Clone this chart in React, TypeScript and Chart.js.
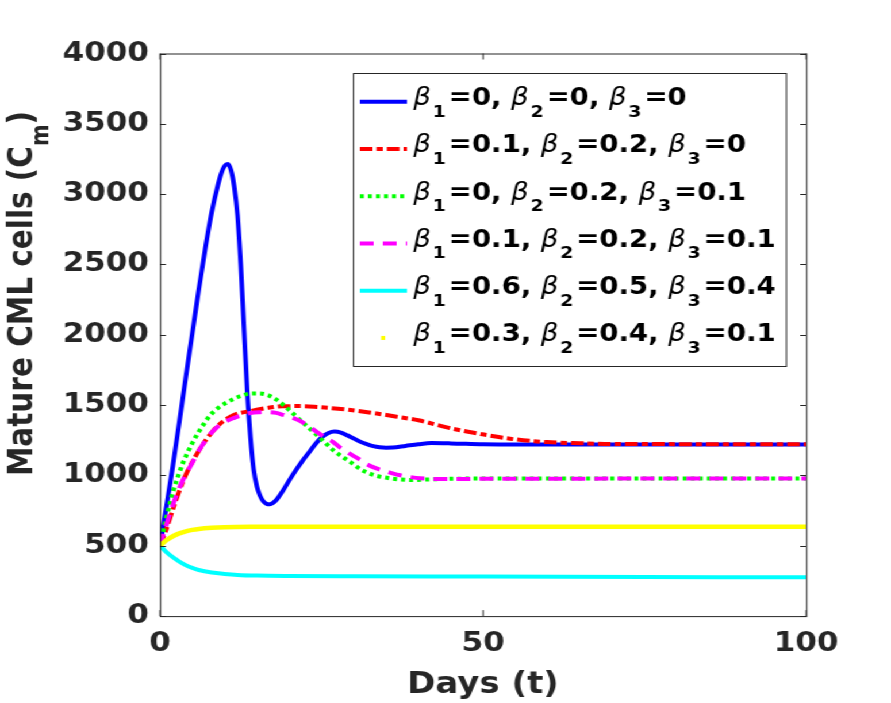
import { useEffect, useRef } from "react";
import { Chart, registerables } from "chart.js";

Chart.register(...registerables);

// Canvas is laid out at a narrower width and stretched horizontally on screen.
const CANVAS_W = 775;
const CANVAS_H = 703;
const STRETCH = 891 / 775;

const FONT = "'DejaVu Sans', sans-serif";
const AXIS_COLOR = "#262626";

// ---- series: time (days) and mature CML cells ----
const tBlue = [0, 1, 2, 3, 4, 5, 6, 7, 8, 9, 9.5, 10, 10.5, 11, 11.5, 12, 12.5, 13, 13.5, 14, 14.5, 15, 15.5, 16, 16.5, 17, 17.5, 18, 19, 20, 21, 22, 23, 24, 25, 26, 27, 28, 29, 30, 31, 32, 33, 34, 35, 36, 38, 40, 42, 45, 50, 55, 60, 100];
const cmBlue = [500, 780, 1070, 1380, 1700, 2010, 2320, 2610, 2870, 3070, 3150, 3200, 3215, 3170, 3050, 2850, 2500, 2050, 1600, 1270, 1040, 920, 855, 815, 798, 795, 805, 825, 890, 965, 1035, 1100, 1160, 1220, 1270, 1300, 1312, 1305, 1285, 1262, 1240, 1222, 1208, 1200, 1197, 1198, 1210, 1222, 1230, 1228, 1222, 1220, 1220, 1220];

const tRed = [0, 1, 2, 3, 4, 5, 6, 7, 8, 9, 10, 11.4, 14, 16.6, 19, 22, 24.3, 29.5, 34, 37, 40, 45, 49.6, 54.7, 59.9, 65, 70, 100];
const cmRed = [500, 620, 760, 890, 1005, 1095, 1175, 1245, 1305, 1355, 1392, 1430, 1458, 1480, 1492, 1493, 1487, 1465, 1437, 1415, 1392, 1335, 1295, 1258, 1237, 1229, 1224, 1222];

const tGreen = [0, 1, 2, 3, 3.6, 5, 6, 7, 7.8, 9, 10, 11.4, 12.5, 14, 15, 16.6, 18, 19.1, 20, 21.7, 23, 24.3, 25.5, 26.8, 28, 29.5, 31, 32, 33.3, 34.6, 36, 37.2, 39, 42, 45, 50, 100];
const cmGreen = [500, 700, 880, 1020, 1094, 1230, 1310, 1380, 1430, 1480, 1510, 1544, 1565, 1582, 1583, 1573, 1540, 1501, 1465, 1394, 1340, 1287, 1235, 1180, 1140, 1094, 1045, 1022, 1000, 987, 977, 972, 968, 972, 976, 978, 978];

const tMagenta = [0, 1, 2, 3, 3.6, 5, 6, 7, 8, 9, 10, 11.4, 12.5, 14, 15.5, 16.6, 18, 19.1, 20.5, 21.7, 23, 24.3, 25.5, 26.8, 28, 29.5, 31, 32, 33.5, 34.9, 36, 37.2, 38.5, 40.3, 45.4, 50, 100];
const cmMagenta = [500, 650, 790, 910, 972, 1090, 1175, 1245, 1305, 1350, 1380, 1408, 1425, 1444, 1450, 1451, 1445, 1430, 1410, 1387, 1350, 1308, 1272, 1237, 1195, 1151, 1110, 1080, 1050, 1030, 1015, 1001, 990, 980, 974, 976, 978];

const tCyan = [0, 0.5, 1, 2, 3, 4, 5, 6, 8, 10, 12, 15, 20, 30, 50, 75, 100];
const cmCyan = [500, 478, 455, 418, 388, 362, 343, 328, 310, 300, 293, 288, 285, 283, 281, 278, 276];

const tYellow = [0, 0.5, 1, 2, 3, 4, 5, 6, 8, 10, 15, 20, 100];
const cmYellow = [500, 520, 540, 568, 588, 603, 613, 620, 628, 632, 635, 636, 636];

// ---- legend parameters ----
const beta1 = ["0", "0.1", "0", "0.1", "0.6", "0.3"];
const beta2 = ["0", "0.2", "0.2", "0.2", "0.5", "0.4"];
const beta3 = ["0", "0", "0.1", "0.1", "0.4", "0.1"];

// ---- axis ticks ----
const xTicks = [0, 50, 100];
const yTicks = [0, 500, 1000, 1500, 2000, 2500, 3000, 3500, 4000];

type Style = { color: string; dash: number[]; width: number; dotOnly?: boolean };
const styles: Style[] = [
  { color: "#0000ff", dash: [], width: 4 },
  { color: "#ff0000", dash: [11, 3.5, 5.5, 3.5], width: 4 },
  { color: "#00ff00", dash: [3.5, 3.5], width: 4 },
  { color: "#ff00ff", dash: [12, 8], width: 4 },
  { color: "#00ffff", dash: [], width: 4 },
  { color: "#ffff00", dash: [], width: 4.5, dotOnly: true },
];

const seriesT = [tBlue, tRed, tGreen, tMagenta, tCyan, tYellow];
const seriesV = [cmBlue, cmRed, cmGreen, cmMagenta, cmCyan, cmYellow];

function toPoints(ts: number[], vs: number[]) {
  return ts.map((t, i) => ({ x: t, y: vs[i] }));
}

function drawLegendRow(ctx: CanvasRenderingContext2D, x: number, base: number, vals: string[]) {
  let cx = x;
  vals.forEach((v, i) => {
    ctx.font = `italic 24px ${FONT}`;
    ctx.fillText("β", cx, base);
    cx += ctx.measureText("β").width + 1.5;
    ctx.font = `bold 16.5px ${FONT}`;
    const sub = String(i + 1);
    ctx.fillText(sub, cx, base + 11.5);
    cx += ctx.measureText(sub).width + 2.5;
    ctx.font = `bold 24px ${FONT}`;
    const s = "=" + v + (i < vals.length - 1 ? ", " : "");
    ctx.fillText(s, cx, base);
    cx += ctx.measureText(s).width;
  });
}

const decorations = {
  id: "decorations",
  afterDatasetsDraw(chart: any) {
    const { ctx, chartArea } = chart;
    const { left, right, top, bottom } = chartArea;
    const xs = chart.scales.x;
    const ys = chart.scales.y;
    ctx.save();

    // axes box
    ctx.strokeStyle = AXIS_COLOR;
    ctx.lineWidth = 1;
    ctx.strokeRect(left + 0.5, top + 0.5, right - left, bottom - top);

    // inward tick marks
    ctx.beginPath();
    for (const v of yTicks) {
      const y = Math.round(ys.getPixelForValue(v)) + 0.5;
      ctx.moveTo(left, y);
      ctx.lineTo(left + 5.2, y);
      ctx.moveTo(right, y);
      ctx.lineTo(right - 5.2, y);
    }
    for (const v of xTicks) {
      const x = xs.getPixelForValue(v);
      ctx.moveTo(x, bottom);
      ctx.lineTo(x, bottom - 6);
      ctx.moveTo(x, top);
      ctx.lineTo(x, top + 6);
    }
    ctx.stroke();

    // axis titles
    ctx.fillStyle = AXIS_COLOR;
    ctx.textBaseline = "alphabetic";
    ctx.textAlign = "center";
    ctx.font = `bold 29.5px ${FONT}`;
    ctx.fillText("Days (t)", (left + right) / 2, 693);

    ctx.save();
    ctx.translate(28, 293.5);
    ctx.rotate(-Math.PI / 2);
    ctx.textAlign = "left";
    const mainTxt = "Mature CML cells (C";
    ctx.font = `bold 29.5px ${FONT}`;
    const w1 = ctx.measureText(mainTxt).width;
    const w3 = ctx.measureText(")").width;
    ctx.font = `bold 20.7px ${FONT}`;
    const w2 = ctx.measureText("m").width;
    const total = w1 + w2 + w3;
    let px = -total / 2;
    ctx.font = `bold 29.5px ${FONT}`;
    ctx.fillText(mainTxt, px, 0);
    px += w1;
    ctx.font = `bold 20.7px ${FONT}`;
    ctx.fillText("m", px, 14);
    px += w2;
    ctx.font = `bold 29.5px ${FONT}`;
    ctx.fillText(")", px, 0);
    ctx.restore();

    // legend
    const bx = 307, by = 73, bw = 376.5, bh = 293;
    ctx.fillStyle = "#ffffff";
    ctx.fillRect(bx, by, bw, bh);
    ctx.strokeStyle = AXIS_COLOR;
    ctx.lineWidth = 1;
    ctx.strokeRect(bx + 0.5, by + 0.5, bw, bh);

    ctx.textAlign = "left";
    styles.forEach((st, i) => {
      const ly = 101.7 + i * 47.25;
      ctx.strokeStyle = st.color;
      ctx.fillStyle = st.color;
      if (st.dotOnly) {
        ctx.fillRect(331.5, ly - 2, 3.5, 4);
      } else {
        ctx.lineWidth = st.width;
        ctx.setLineDash(st.dash);
        ctx.beginPath();
        ctx.moveTo(313, ly);
        ctx.lineTo(354, ly);
        ctx.stroke();
        ctx.setLineDash([]);
      }
      ctx.fillStyle = "#000000";
      drawLegendRow(ctx, 359.5, ly + 3.5, [beta1[i], beta2[i], beta3[i]]);
    });

    ctx.restore();
  },
};

export default function App() {
  const canvasRef = useRef<HTMLCanvasElement | null>(null);

  useEffect(() => {
    const canvas = canvasRef.current;
    if (!canvas) return;
    const labels = ["β1=0, β2=0, β3=0", "β1=0.1, β2=0.2, β3=0", "β1=0, β2=0.2, β3=0.1", "β1=0.1, β2=0.2, β3=0.1", "β1=0.6, β2=0.5, β3=0.4", "β1=0.3, β2=0.4, β3=0.1"];
    const datasets = styles.map((st, i) => ({
      label: labels[i],
      data: toPoints(seriesT[i], seriesV[i]),
      borderColor: st.color,
      backgroundColor: st.color,
      borderWidth: st.width,
      borderDash: st.dash,
      pointRadius: 0,
      fill: false,
      cubicInterpolationMode: "monotone" as const,
      order: styles.length - i,
    }));

    const plain = (v: any) => String(v);

    const chart = new Chart(canvas, {
      type: "line",
      data: { datasets },
      options: {
        responsive: false,
        animation: false,
        devicePixelRatio: 1,
        layout: { padding: { left: 45, right: 73.8, top: 53.5, bottom: 30.5 } },
        plugins: { legend: { display: false }, tooltip: { enabled: false } },
        scales: {
          x: {
            type: "linear",
            min: 0,
            max: 100,
            afterBuildTicks: (s: any) => {
              s.ticks = xTicks.map((v) => ({ value: v }));
            },
            ticks: { callback: plain, font: { family: FONT, size: 27, weight: "bold" }, color: AXIS_COLOR, padding: 12, maxRotation: 0 },
            grid: { display: false, drawTicks: false },
            border: { display: false },
          },
          y: {
            type: "linear",
            min: 0,
            max: 4000,
            afterBuildTicks: (s: any) => {
              s.ticks = yTicks.map((v) => ({ value: v }));
            },
            ticks: { callback: plain, font: { family: FONT, size: 27, weight: "bold" }, color: AXIS_COLOR, padding: 9.5 },
            grid: { display: false, drawTicks: false },
            border: { display: false },
          },
        },
      },
      plugins: [decorations],
    });
    return () => chart.destroy();
  }, []);

  return (
    <div
      style={{
        position: "absolute",
        left: 0,
        top: 0,
        width: CANVAS_W,
        height: CANVAS_H,
        transform: `scaleX(${STRETCH})`,
        transformOrigin: "0 0",
        background: "#ffffff",
      }}
    >
      <canvas ref={canvasRef} width={CANVAS_W} height={CANVAS_H} style={{ display: "block" }} />
    </div>
  );
}
